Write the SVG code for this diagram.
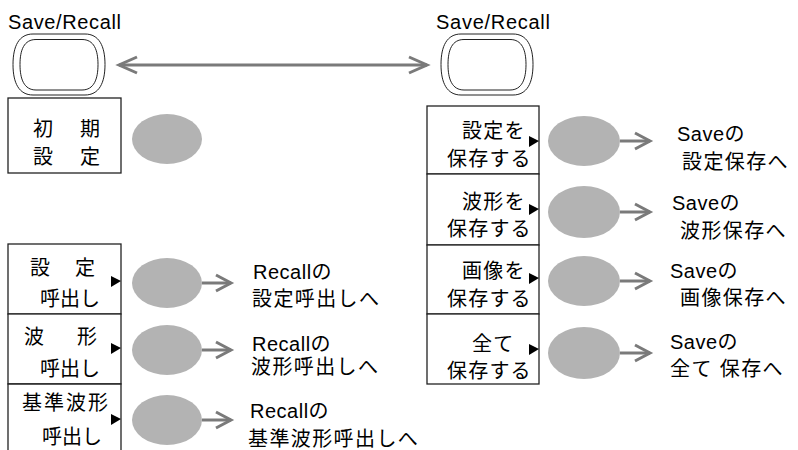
<svg xmlns="http://www.w3.org/2000/svg" width="798" height="450" viewBox="0 0 798 450">
<style>
text{font-family:"Liberation Sans","Noto Sans CJK JP",sans-serif;fill:#000}
.t{font-size:20px}
.bx{font-size:20px}
.bxr{font-size:20px;letter-spacing:1.2px}
.lb{font-size:20px;letter-spacing:1.4px}
.la{letter-spacing:0.5px}
.box{fill:#fff;stroke:#222;stroke-width:1.3}
.ell{fill:#b3b3b3}
.btn{fill:none;stroke:#222;stroke-width:1}
.tri{fill:#000}
.arr{fill:none;stroke:#7a7a7a;stroke-width:3}
</style>
<defs>
<g id="button">
<path class="btn" d="M-26,34 L26,34 C40,34 46,46 46,64.5 C46,83 40,95 26,95 L-26,95 C-40,95 -46,83 -46,64.5 C-46,46 -40,34 -26,34 Z"/>
<path class="btn" d="M-23,39.5 L23,39.5 C35,39.5 39,50 39,64.5 C39,79 35,90 23,90 L-23,90 C-35,90 -39,79 -39,64.5 C-39,50 -35,39.5 -23,39.5 Z"/>
</g>
</defs>

<g id="btn-left">
<text class="t" x="8" y="29" textLength="113">Save/Recall</text>
<use href="#button" transform="translate(59,0)"/>
</g>
<g id="btn-right">
<text class="t" x="436" y="29" textLength="114">Save/Recall</text>
<use href="#button" transform="translate(487,0)"/>
</g>

<g id="connectors">
<line class="arr" x1="119" y1="65" x2="427" y2="65"/>
<polyline class="arr" points="137,57 119,65 137,73"/>
<polyline class="arr" points="409,57 427,65 409,73"/>
<line class="arr" x1="202" y1="283" x2="231" y2="283"/>
<polyline class="arr" points="216,275 231,283 216,291"/>
<line class="arr" x1="202" y1="350" x2="231" y2="350"/>
<polyline class="arr" points="216,342 231,350 216,358"/>
<line class="arr" x1="202" y1="420" x2="231" y2="420"/>
<polyline class="arr" points="216,412 231,420 216,428"/>
<line class="arr" x1="620" y1="141" x2="650" y2="141"/>
<polyline class="arr" points="635,133 650,141 635,149"/>
<line class="arr" x1="620" y1="212" x2="650" y2="212"/>
<polyline class="arr" points="635,204 650,212 635,220"/>
<line class="arr" x1="620" y1="281" x2="650" y2="281"/>
<polyline class="arr" points="635,273 650,281 635,289"/>
<line class="arr" x1="620" y1="353" x2="650" y2="353"/>
<polyline class="arr" points="635,345 650,353 635,361"/>
</g>

<g id="menu-shoki">
<rect class="box" x="8" y="98" width="113" height="75"/>
<text class="bx" x="33" y="136">初</text><text class="bx" x="80" y="136">期</text>
<text class="bx" x="33" y="164">設</text><text class="bx" x="80" y="164">定</text>
</g>
<g id="knob-shoki"><ellipse class="ell" cx="167" cy="139" rx="35" ry="25"/></g>

<g id="menu-settei-yobidashi">
<rect class="box" x="8" y="244" width="113" height="70"/>
<text class="bx" x="30" y="275">設</text><text class="bx" x="75" y="275">定</text>
<text class="bx" x="40" y="306">呼出し</text>
<polygon class="tri" points="111,276 121,281 111,287"/>
</g>
<g id="menu-hakei-yobidashi">
<rect class="box" x="8" y="314" width="113" height="70"/>
<text class="bx" x="24" y="344">波</text><text class="bx" x="77" y="344">形</text>
<text class="bx" x="40" y="376">呼出し</text>
<polygon class="tri" points="111,343 121,348 111,354"/>
</g>
<g id="menu-kijun-yobidashi">
<path class="box" d="M8,455 L8,384 L121,384 L121,455"/>
<text class="bx" x="22" y="410" letter-spacing="2">基準波形</text>
<text class="bx" x="42" y="444">呼出し</text>
<polygon class="tri" points="111,414 121,419 111,425"/>
</g>

<g id="knob-r1"><ellipse class="ell" cx="167" cy="283" rx="35" ry="25"/></g>
<g id="knob-r2"><ellipse class="ell" cx="167" cy="350" rx="35" ry="25"/></g>
<g id="knob-r3"><ellipse class="ell" cx="167" cy="420" rx="35" ry="25"/></g>

<g id="label-r1"><text class="lb" x="253" y="279"><tspan class="la">Recall</tspan>の</text><text class="lb" x="252" y="306">設定呼出しへ</text></g>
<g id="label-r2"><text class="lb" x="252" y="351"><tspan class="la">Recall</tspan>の</text><text class="lb" x="251" y="374">波形呼出しへ</text></g>
<g id="label-r3"><text class="lb" x="250" y="418"><tspan class="la">Recall</tspan>の</text><text class="lb" x="248" y="446">基準波形呼出しへ</text></g>

<g id="menu-save-settei">
<rect class="box" x="427" y="106" width="112" height="68"/>
<text class="bxr" x="462" y="138">設定を</text>
<text class="bxr" x="447" y="166">保存する</text>
<polygon class="tri" points="529,136 539,141 529,147"/>
</g>
<g id="menu-save-hakei">
<rect class="box" x="427" y="174" width="112" height="71"/>
<text class="bxr" x="462" y="209">波形を</text>
<text class="bxr" x="447" y="236">保存する</text>
<polygon class="tri" points="529,204 539,209 529,215"/>
</g>
<g id="menu-save-gazou">
<rect class="box" x="427" y="245" width="112" height="69"/>
<text class="bxr" x="462" y="278">画像を</text>
<text class="bxr" x="447" y="306">保存する</text>
<polygon class="tri" points="529,273 539,278 529,284"/>
</g>
<g id="menu-save-all">
<rect class="box" x="427" y="314" width="112" height="70"/>
<text class="bxr" x="472" y="351">全て</text>
<text class="bxr" x="447" y="378">保存する</text>
<polygon class="tri" points="529,344 539,349 529,355"/>
</g>

<g id="knob-s1"><ellipse class="ell" cx="584" cy="141" rx="36" ry="25"/></g>
<g id="knob-s2"><ellipse class="ell" cx="584" cy="212" rx="36" ry="26"/></g>
<g id="knob-s3"><ellipse class="ell" cx="584" cy="281" rx="36" ry="25"/></g>
<g id="knob-s4"><ellipse class="ell" cx="584" cy="353" rx="36" ry="26"/></g>

<g id="label-s1"><text class="lb" x="677" y="141"><tspan class="la">Save</tspan>の</text><text class="lb" x="682" y="169" letter-spacing="2">設定保存へ</text></g>
<g id="label-s2"><text class="lb" x="672" y="210"><tspan class="la">Save</tspan>の</text><text class="lb" x="680" y="238" letter-spacing="2">波形保存へ</text></g>
<g id="label-s3"><text class="lb" x="670" y="278"><tspan class="la">Save</tspan>の</text><text class="lb" x="680" y="305" letter-spacing="2">画像保存へ</text></g>
<g id="label-s4"><text class="lb" x="670" y="349"><tspan class="la">Save</tspan>の</text><text class="lb" x="670" y="376">全て 保存へ</text></g>
</svg>
